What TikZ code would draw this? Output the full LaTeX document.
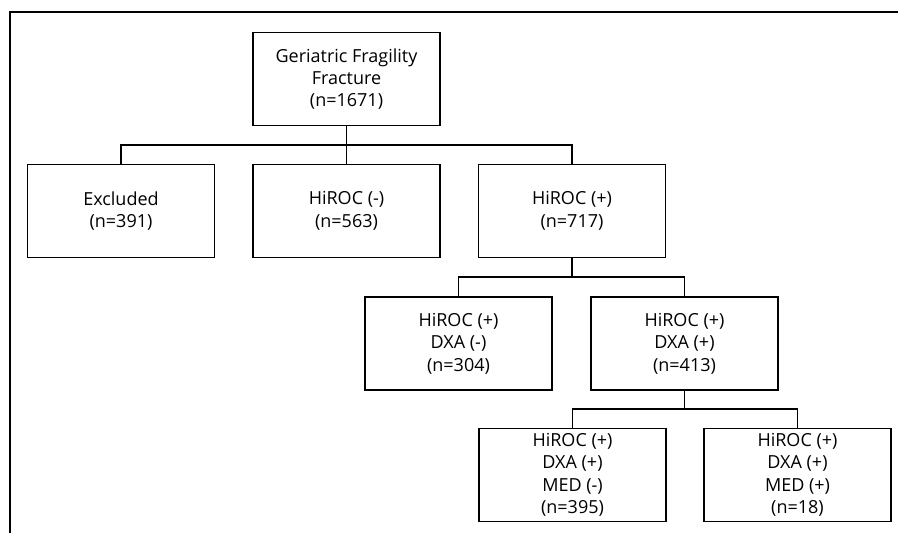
\documentclass[tikz,border=0pt]{standalone}
\usepackage{fontspec}
\setmainfont{Open Sans}
\begin{document}
\begin{tikzpicture}[x=1pt,y=-1pt,
  box/.style={draw, line width=1.3pt, minimum width=187pt, minimum height=93pt, inner sep=0pt, align=center, font=\fontsize{18}{22.4}\selectfont},
  conn/.style={line width=1.3pt}]
\useasboundingbox (0,0) rectangle (898,533);
\draw[line width=1.3pt] (10,533) -- (10,12) -- (898,12);
\node[box] (top) at (346.5,79) {Geriatric Fragility\\Fracture\\(n=1671)};
\node[box] (excl) at (121,211) {Excluded\\(n=391)};
\node[box] (neg) at (346.5,211) {HiROC (-)\\(n=563)};
\node[box] (pos) at (572,211) {HiROC (+)\\(n=717)};
\node[box] (dxaneg) at (458.5,343.5) {HiROC (+)\\DXA (-)\\(n=304)};
\node[box] (dxapos) at (684.5,343.5) {HiROC (+)\\DXA (+)\\(n=413)};
\node[box] (medneg) at (572.5,475) {HiROC (+)\\DXA (+)\\MED (-)\\(n=395)};
\node[box] (medpos) at (797.5,475) {HiROC (+)\\DXA (+)\\MED (+)\\(n=18)};
\coordinate (b1) at (346.5,145);
\coordinate (b2) at (572,277);
\coordinate (b3) at (684.5,409);
\draw[conn] (top.south) -- (neg.north);
\draw[conn] (excl.north) |- (b1) -| (pos.north);
\draw[conn] (pos.south) -- (b2);
\draw[conn] (dxaneg.north) |- (b2) -| (dxapos.north);
\draw[conn] (dxapos.south) -- (b3);
\draw[conn] (medneg.north) |- (b3) -| (medpos.north);
\end{tikzpicture}
\end{document}
